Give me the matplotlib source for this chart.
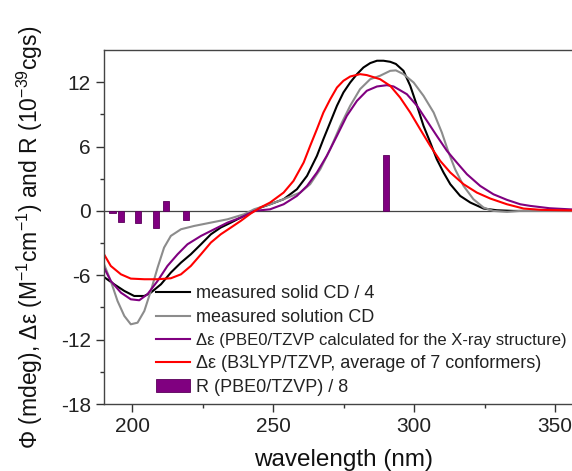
import numpy as np
import matplotlib.pyplot as plt

plt.rcParams['font.family'] = ['Liberation Sans', 'DejaVu Sans']
plt.rcParams['mathtext.default'] = 'regular'
plt.rcParams['axes.unicode_minus'] = False

# measured solid-state CD, divided by 4
solid_wl = [190, 193.6, 197.2, 200.7, 204.3, 206.6, 210.2, 213.7, 217.3, 220.8, 224.4, 227.9,
            231.4, 235, 238.5, 242.1, 245.4, 248.9, 253.7, 258.4, 262, 265.5, 267.8, 270.2,
            272.6, 274.9, 277.3, 279.7, 282, 284.4, 286.8, 289.1, 291.5, 293.5, 296.2, 298.6,
            301, 303.3, 305.7, 308, 310.4, 312.8, 316.3, 319.9, 324.6, 329.3, 335.2, 360]
solid_cd = [-6.16, -6.84, -7.46, -7.93, -7.93, -7.62, -6.84, -5.75, -4.82, -4.04, -3.11, -2.18,
            -1.55, -1.09, -0.62, -0.16, 0.3, 0.62, 1.09, 2.02, 3.27, 5.13, 6.69, 8.24,
            9.8, 11.04, 11.97, 12.75, 13.37, 13.78, 14.0, 14.0, 13.9, 13.7, 13.06, 11.66,
            9.8, 7.93, 6.38, 4.82, 3.58, 2.49, 1.4, 0.78, 0.22, 0.06, 0.0, 0.0]

# measured solution CD
sol_wl = [190, 192.4, 194.8, 197.2, 199.5, 201.9, 204.3, 206.6, 209, 211.3, 213.7, 217.3, 222,
          227.9, 233.8, 239.7, 243.3, 248.9, 253.7, 259.6, 263.1, 266.7, 270.2, 273.8, 277.3,
          280.8, 284.4, 287.9, 291.5, 293.5, 296.2, 299.8, 303.3, 306.9, 309.8, 312.2, 314.5,
          317.5, 321, 324.6, 328.1, 332.9, 337.6, 360]
sol_cd = [-4.97, -6.53, -8.4, -9.79, -10.57, -10.42, -9.33, -7.46, -5.29, -3.42, -2.33, -1.71, -1.4,
          -1.09, -0.78, -0.31, 0.16, 0.62, 1.09, 1.71, 2.49, 3.89, 5.75, 7.93, 9.8,
          11.35, 12.28, 12.6, 13.06, 13.1, 12.75, 11.97, 10.73, 9.17, 7.31, 5.44, 3.89,
          2.33, 1.09, 0.31, 0.0, -0.09, 0.0, 0.0]

# PBE0/TZVP spectrum of the X-ray structure
pbe_wl = [190, 192.4, 196, 199.5, 202.5, 205.4, 209, 212.5, 216.1, 219.6, 224.4, 229.1, 233.8,
          238.5, 243.3, 248.9, 253.7, 258.4, 262, 265.5, 269, 272.6, 276.1, 279.7, 283.2,
          286.8, 290.3, 292.7, 297.4, 301, 304.5, 308, 311.6, 315.1, 318.7, 323.4, 328.1,
          332.9, 337.6, 341.1, 348, 355, 360]
pbe_cd = [-5.29, -6.53, -7.62, -8.24, -8.33, -7.77, -6.53, -5.13, -4.04, -3.11, -2.33, -1.71, -1.09,
          -0.62, 0.0, 0.15, 0.62, 1.4, 2.33, 3.58, 5.13, 7.0, 8.86, 10.26, 11.2,
          11.6, 11.72, 11.6, 10.88, 9.8, 8.4, 7.0, 5.6, 4.51, 3.42, 2.33, 1.55,
          1.03, 0.62, 0.47, 0.25, 0.15, 0.1]

# B3LYP/TZVP, Boltzmann average of 7 conformers
b3_wl = [190, 192.4, 196, 199.5, 204.3, 209, 213.7, 217.3, 220.8, 224.4, 227.9, 231.4, 235,
         238.5, 242, 245.4, 248.9, 253.7, 257.2, 260.8, 263.1, 265.5, 267.8, 270.2, 272.6,
         274.9, 277.3, 280.8, 283.2, 287.9, 291.5, 295, 298.6, 302.1, 305.7, 309.2, 312.8,
         317.5, 322.2, 327, 332.9, 338.8, 345, 355, 360]
b3_cd = [-4.04, -5.13, -5.91, -6.31, -6.37, -6.37, -6.28, -5.91, -5.13, -4.04, -2.95, -2.18, -1.55,
         -0.93, -0.25, 0.31, 0.78, 1.71, 2.8, 4.51, 6.06, 7.62, 9.17, 10.4, 11.5,
         12.13, 12.53, 12.75, 12.66, 12.28, 11.66, 10.57, 9.17, 7.62, 6.06, 4.67, 3.58,
         2.49, 1.71, 1.15, 0.62, 0.22, 0.1, 0.05, 0.03]

# PBE0/TZVP rotational strengths, divided by 8
r_wl = [193, 196, 202, 208.5, 212, 219, 290]
r_val = [-0.15, -1.05, -1.15, -1.6, 0.9, -0.85, 5.2]

purple = '#800080'

fig = plt.figure(figsize=(5.72, 4.71), dpi=100)
ax = fig.add_axes([104 / 572, 67 / 471, 479.4 / 572, 354 / 471])

ax.axhline(0, color='#444444', lw=0.9, zorder=1)
l1, = ax.plot(solid_wl, solid_cd, color='black', lw=1.5, label='measured solid CD / 4')
l2, = ax.plot(sol_wl, sol_cd, color='#8c8c8c', lw=1.5, label='measured solution CD')
l3, = ax.plot(pbe_wl, pbe_cd, color=purple, lw=1.5,
              label='Δε (PBE0/TZVP calculated for the X-ray structure)')
l4, = ax.plot(b3_wl, b3_cd, color='red', lw=1.5,
              label='Δε (B3LYP/TZVP, average of 7 conformers)')
bars = ax.bar(r_wl, r_val, width=2.2, color=purple, edgecolor='#5a005a', lw=0.6,
              label='R (PBE0/TZVP) / 8', zorder=3)

ax.set_xlim(190, 360)
ax.set_ylim(-18, 15)
ax.set_xticks([200, 250, 300, 350])
ax.set_xticks([225, 275, 325], minor=True)
ax.set_yticks([-18, -12, -6, 0, 6, 12])
ax.set_yticks([-15, -9, -3, 3, 9], minor=True)
ax.tick_params(which='major', length=6, width=1, labelsize=15, color='#333333', labelcolor='#222222')
ax.tick_params(which='minor', length=3, width=1, color='#333333')
for s in ax.spines.values():
    s.set_color('#444444')
    s.set_linewidth(1.0)

ax.set_xlabel('wavelength (nm)', fontsize=17.5, labelpad=9, color='#111111')
ax.set_ylabel('Φ (mdeg), Δε (M$^{-1}$cm$^{-1}$) and R (10$^{-39}$cgs)', fontsize=16.5,
              color='#111111')
ax.yaxis.set_label_coords(-0.124, 0.472)

leg = ax.legend(handles=[l1, l2, l3, l4, bars], loc='upper left',
                bbox_to_anchor=(156 / 572, 1 - 285 / 471), bbox_transform=fig.transFigure,
                frameon=False, fontsize=13, handlelength=1.9, handletextpad=0.3,
                labelspacing=0.38, borderpad=0, borderaxespad=0, labelcolor='#222222')
# the long calculated-structure entry is set a bit smaller so it fits the width
leg.get_texts()[2].set_fontsize(12)

fig.savefig('out.png', dpi=100)
